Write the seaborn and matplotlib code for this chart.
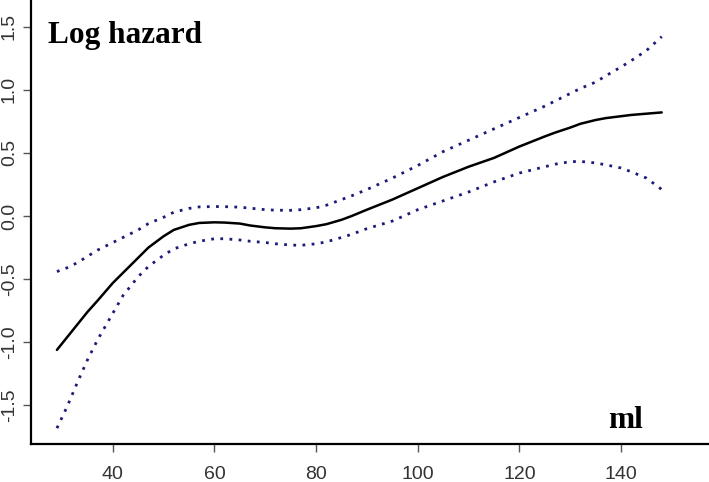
import matplotlib
matplotlib.use("Agg")
import matplotlib.pyplot as plt
import seaborn as sns
import pandas as pd

ml = [29, 31, 33, 35, 37, 40, 42, 45, 47, 50, 52, 55, 57, 60, 62, 65, 67, 70, 72, 75,
      77, 80, 82, 85, 87, 90, 95, 100, 105, 110, 115, 120, 125, 127, 130, 132, 135,
      137, 140, 142, 145, 148]
log_hazard = [-1.06, -0.96, -0.86, -0.76, -0.67, -0.53, -0.45, -0.33, -0.25, -0.16,
              -0.11, -0.07, -0.055, -0.05, -0.052, -0.06, -0.075, -0.09, -0.097, -0.10,
              -0.097, -0.08, -0.065, -0.03, 0.0, 0.05, 0.13, 0.22, 0.31, 0.39,
              0.46, 0.55, 0.63, 0.66, 0.70, 0.73, 0.76, 0.775, 0.79, 0.80, 0.81, 0.82]
upper = [-0.44, -0.41, -0.37, -0.32, -0.27, -0.21, -0.17, -0.11, -0.06, -0.01,
         0.03, 0.06, 0.072, 0.075, 0.074, 0.07, 0.062, 0.05, 0.046, 0.045,
         0.05, 0.065, 0.085, 0.13, 0.16, 0.21, 0.30, 0.40, 0.51, 0.60,
         0.69, 0.78, 0.87, 0.91, 0.97, 1.01, 1.06, 1.11, 1.18, 1.23, 1.31, 1.42]
lower = [-1.68, -1.51, -1.32, -1.14, -0.98, -0.77, -0.63, -0.48, -0.40, -0.31,
         -0.26, -0.22, -0.20, -0.18, -0.18, -0.19, -0.20, -0.21, -0.22, -0.23,
         -0.232, -0.22, -0.205, -0.17, -0.145, -0.10, -0.04, 0.05, 0.12, 0.19,
         0.27, 0.34, 0.39, 0.41, 0.43, 0.432, 0.42, 0.405, 0.38, 0.35, 0.30, 0.21]
x_ticks = [40, 60, 80, 100, 120, 140]
y_ticks = [-1.5, -1.0, -0.5, 0.0, 0.5, 1.0, 1.5]

sns.set_style("ticks")
plt.rcParams["font.family"] = ["Liberation Sans", "DejaVu Sans"]

df = pd.DataFrame({"ml": ml, "fit": log_hazard, "upper": upper, "lower": lower})

fig = plt.figure(figsize=(7.09, 4.82), dpi=100)
ax = fig.add_axes([31 / 709, 38 / 482, 678 / 709, 444 / 482])

sns.lineplot(data=df, x="ml", y="upper", ax=ax, color="#1c1c78", lw=2.0,
             linestyle=(0, (1, 2.3)))
sns.lineplot(data=df, x="ml", y="lower", ax=ax, color="#1c1c78", lw=2.0,
             linestyle=(0, (1, 2.3)))
sns.lineplot(data=df, x="ml", y="fit", ax=ax, color="black", lw=1.8)

ax.set_xlim(23.9, 157.3)
ax.set_ylim(-1.805, 1.71)
ax.set_xticks(x_ticks)
ax.set_xticklabels([str(t) for t in x_ticks])
ax.set_yticks(y_ticks)
ax.set_yticklabels([f"{t:.1f}" for t in y_ticks], rotation=90, va="center")
ax.set_xlabel("")
ax.set_ylabel("")

for s in ["top", "right"]:
    ax.spines[s].set_visible(False)
for s in ["left", "bottom"]:
    ax.spines[s].set_linewidth(1.6)
    ax.spines[s].set_color("black")

ax.tick_params(axis="both", length=5.5, width=1.0, color="#555555",
               labelcolor="#333333", labelsize=14)
ax.tick_params(axis="x", pad=10)
ax.tick_params(axis="y", pad=4)

ax.text(0.025, 0.903, "Log hazard", transform=ax.transAxes, ha="left", va="baseline",
        fontsize=22.5, fontweight="bold", color="black",
        family=["Liberation Serif", "DejaVu Serif"])
ax.text(0.851, 0.036, "ml", transform=ax.transAxes, ha="left", va="baseline",
        fontsize=22.5, fontweight="bold", color="black",
        family=["Liberation Serif", "DejaVu Serif"])

fig.savefig("out.png", dpi=100)
